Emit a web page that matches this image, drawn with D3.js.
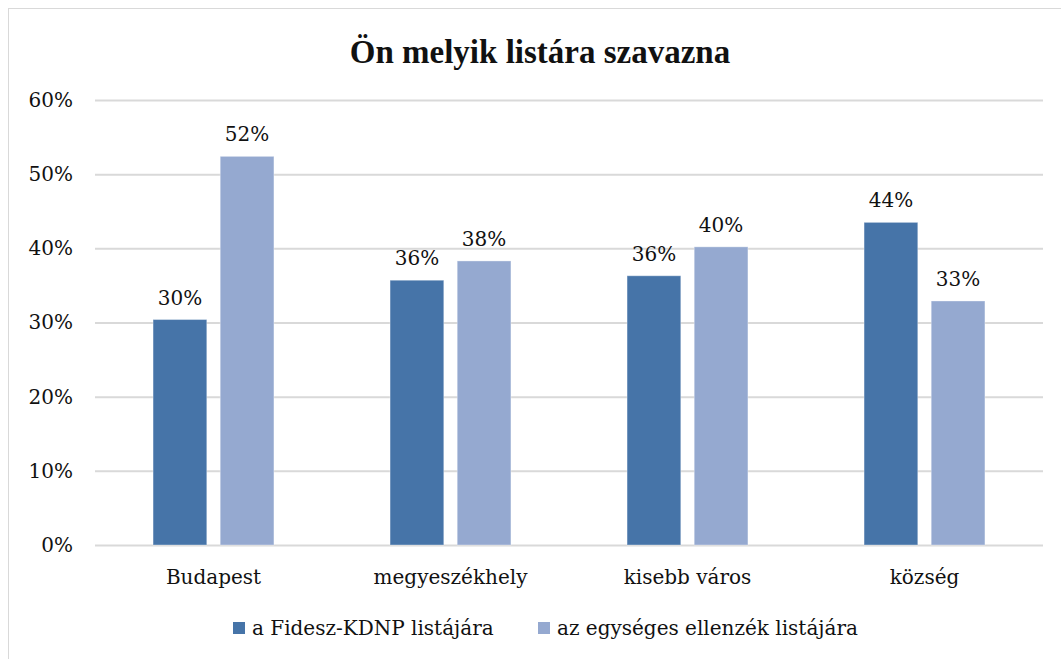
<!DOCTYPE html>
<html><head><meta charset="utf-8">
<script src="https://cdn.jsdelivr.net/npm/d3@7"></script>
<style>body{margin:0;background:#fff}svg{display:block}</style>
</head><body>
<svg id="c" width="1061" height="659"></svg>
<script>
const categories = ["Budapest","megyeszékhely","kisebb város","község"];
const seriesNames = ["a Fidesz-KDNP listájára","az egységes ellenzék listájára"];
const fidesz = [0.304, 0.357, 0.363, 0.435];
const ellenzek = [0.524, 0.383, 0.402, 0.329];
const labelsF = ["30%","36%","36%","44%"];
const labelsE = ["52%","38%","40%","33%"];
const yTicks = [0,0.1,0.2,0.3,0.4,0.5,0.6];
const colors = ["#4674a8","#95a9d0"];
const FONT = "'DejaVu Serif', serif";
const TXT = "#111";

const svg = d3.select("#c");
svg.append("rect").attr("x",8.5).attr("y",8.5).attr("width",1070).attr("height",670)
  .attr("fill","#fff").attr("stroke","#d9d9d9");

const L=95,R=1043,T=100,B=545;
const y = d3.scaleLinear().domain([0,0.6]).range([B,T]);
const x0 = d3.scaleBand().domain(categories).range([L,R]).paddingInner(0.49).paddingOuter(0.245);
const x1 = d3.scaleBand().domain([0,1]).range([0,x0.bandwidth()]).paddingInner(0.2);

svg.append("text").attr("x",540).attr("y",63).attr("text-anchor","middle")
  .style("font-family","'Liberation Serif', serif").style("font-size","33px").style("font-weight","bold")
  .style("fill",TXT).text("Ön melyik listára szavazna");

const yAxis = d3.axisLeft(y).tickValues(yTicks).tickFormat(d3.format(".0%")).tickSize(-(R-L)).tickPadding(22);
const ga = svg.append("g").attr("transform",`translate(${L},0)`).call(yAxis);
ga.select(".domain").remove();
ga.selectAll(".tick line").attr("stroke","#d9d9d9").attr("stroke-width",2);
ga.selectAll(".tick text").style("font-size","20px").style("fill",TXT).style("font-family",FONT);

const data = categories.map((c,i)=>({c, v:[fidesz[i],ellenzek[i]], l:[labelsF[i],labelsE[i]]}));
const g = svg.append("g");
data.forEach(d=>{
  [0,1].forEach(k=>{
    const bx = x0(d.c)+x1(k);
    g.append("rect").attr("x",bx).attr("y",y(d.v[k])).attr("width",x1.bandwidth())
      .attr("height",B-y(d.v[k])).attr("fill",colors[k]).attr("stroke","#ffffff").attr("stroke-opacity",0.35).attr("stroke-width",1);
    g.append("text").attr("x",bx+x1.bandwidth()/2).attr("y",y(d.v[k])-15)
      .attr("text-anchor","middle").style("font-size","20px").style("font-family",FONT).style("fill",TXT).text(d.l[k]);
  });
  svg.append("text").attr("x",x0(d.c)+x0.bandwidth()/2).attr("y",584).attr("text-anchor","middle")
    .style("font-size","20px").style("font-family",FONT).style("fill",TXT).text(d.c);
});

const legX=[233,538];
seriesNames.forEach((s,k)=>{
  svg.append("rect").attr("x",legX[k]).attr("y",622).attr("width",12).attr("height",12).attr("fill",colors[k]);
  svg.append("text").attr("x",legX[k]+19).attr("y",635).style("font-size","20px").style("font-family",FONT).style("fill",TXT).text(s);
});
</script>
</body></html>
